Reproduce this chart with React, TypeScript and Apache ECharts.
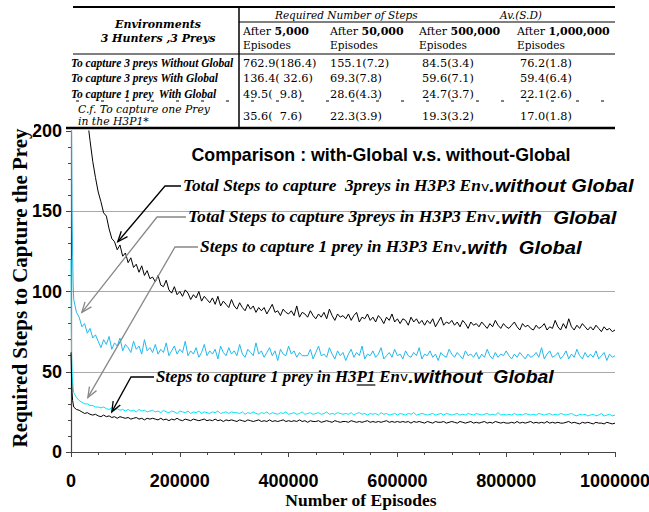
import React, { useEffect, useRef } from "react";
import * as echarts from "echarts";

// ---------- data ----------
const episodesHead = [0, 1000, 2000, 3000, 4000];
const episodeStep = 5000; // body samples: 5000, 10000, ... 1000000

const withoutGlobal3PreysHead = [900, 860, 810, 760, 680];
const withoutGlobal3Preys = [
  600, 420, 330, 272, 234, 208, 194, 181, 171, 162,
  156, 149, 147, 139, 133, 131, 126, 129, 122, 124,
  118, 121, 115, 117, 112, 116, 110, 113, 108, 109,
  106, 110, 104, 103, 107, 101, 99, 103, 98, 100,
  97, 101, 99, 95, 98, 96, 100, 94, 97, 95,
  93, 96, 92, 97, 91, 94, 92, 90, 95, 91,
  89, 93, 90, 88, 92, 89, 91, 87, 90, 88,
  90, 86, 89, 92, 87, 88, 85, 89, 87, 86,
  88, 85, 91, 84, 87, 86, 84, 88, 85, 83,
  86, 84, 87, 83, 89, 85, 82, 86, 84, 85,
  83, 86, 82, 85, 87, 81, 84, 83, 86, 82,
  84, 81, 85, 83, 80, 84, 82, 86, 81, 83,
  80, 83, 82, 79, 84, 81, 83, 80, 82, 79,
  82, 80, 83, 78, 81, 84, 79, 81, 80, 82,
  79, 81, 78, 82, 80, 77, 81, 79, 80, 78,
  81, 79, 77, 80, 78, 82, 79, 77, 80, 78,
  77, 79, 81, 78, 76, 80, 78, 79, 77, 76,
  79, 77, 78, 80, 76, 78, 77, 82, 78, 76,
  80, 77, 83, 78, 76, 79, 77, 80, 78, 76,
  78, 76, 79, 77, 75, 78, 76, 77, 75, 76,
];

const withGlobal3PreysHead = [300, 200, 150, 122, 104];
const withGlobal3Preys = [
  95, 87, 84, 78, 80, 74, 77, 71, 73, 69,
  65, 70, 67, 72, 64, 68, 66, 71, 63, 67,
  65, 62, 69, 64, 66, 61, 70, 63, 65, 62,
  67, 61, 64, 62, 68, 60, 63, 66, 61, 64,
  62, 69, 60, 63, 61, 65, 59, 62, 67, 60,
  63, 61, 64, 58, 66, 62, 60, 65, 61, 63,
  60, 67, 61, 59, 64, 62, 60, 68, 61, 63,
  59, 62, 65, 60, 63, 57, 64, 61, 60, 66,
  61, 63, 59, 62, 60, 60, 60, 64, 58, 62,
  66, 60, 61, 59, 65, 61, 58, 63, 60, 62,
  57, 61, 64, 59, 62, 60, 66, 58, 61, 60,
  63, 59, 61, 65, 58, 60, 62, 59, 64, 60,
  61, 58, 63, 60, 59, 62, 60, 65, 58, 61,
  60, 63, 59, 61, 57, 62, 60, 59, 64, 61,
  59, 62, 60, 58, 63, 60, 61, 59, 62, 58,
  61, 59, 64, 60, 58, 62, 59, 61, 60, 63,
  60, 58, 61, 59, 62, 60, 58, 61, 59, 60,
  62, 59, 65, 58, 61, 63, 59, 60, 62, 58,
  60, 63, 58, 61, 59, 64, 60, 58, 62, 59,
  61, 59, 63, 58, 60, 62, 57, 61, 59, 60,
];

const withGlobal1PreyHead = [120, 62, 50, 44, 40];
const withGlobal1Prey = [
  37, 34, 32, 31, 30, 30, 29, 29, 28, 28,
  27.5, 28, 27, 26.5, 27.5, 26, 27, 26, 26.5, 25.5,
  26.5, 25.5, 26, 25, 26.5, 25.5, 26, 25, 25.5, 26,
  25, 25.5, 24.5, 26, 25, 24.5, 25.5, 25, 24, 25.5,
  25, 24.5, 25.5, 24, 25, 24.5, 25.5, 24, 25, 24.5,
  24, 25, 24.5, 25.5, 24, 24.5, 25, 24, 25, 24.5,
  24.5, 24, 25, 23.5, 24.5, 24, 25, 24, 23.5, 24.5,
  24, 25, 23.5, 24.5, 24, 23.5, 24.5, 24, 25, 23.5,
  24, 24.5, 23.5, 24, 25, 23.5, 24, 24.5, 23.5, 24,
  24.5, 23.5, 24, 25, 23.5, 24, 23.5, 24.5, 24, 23.5,
  24, 23.5, 24.5, 23, 24, 24.5, 23.5, 24, 23, 24,
  23.5, 24, 23, 24.5, 23.5, 24, 23, 23.5, 24, 23,
  24, 23.5, 23, 24, 23.5, 24.5, 23, 23.5, 24, 23.5,
  23, 23.5, 24, 23, 23.5, 24, 23, 24, 23.5, 23,
  23.5, 24, 23, 23.5, 23, 24, 23.5, 23, 24, 23.5,
  23, 23.5, 24, 23, 23.5, 23, 24.5, 23, 23.5, 23,
  23.5, 23, 24, 23, 23.5, 23, 24, 23.5, 23, 23.5,
  23, 24, 23.5, 23, 23.5, 24, 23, 23.5, 23, 24,
  23.5, 23, 23.5, 24, 23, 22.5, 23.5, 23, 23.5, 22.5,
  23, 23.5, 22.5, 23, 24, 22.5, 23, 23.5, 22.5, 23,
];

const h3p1WithoutGlobal1PreyHead = [62, 46, 37, 32, 30];
const h3p1WithoutGlobal1Prey = [
  28, 26.5, 26, 25, 24, 24.5, 23.5, 23, 23.5, 22.5,
  22, 23, 22, 22.5, 21.5, 22, 21, 22, 21.5, 21,
  21.5, 20.5, 21, 21.5, 20.5, 21, 20, 21, 20.5, 21,
  20.5, 20, 21, 20, 20.5, 19.5, 20.5, 20, 21, 20,
  19.5, 20.5, 20, 19.5, 20.5, 20, 19.5, 20, 20.5, 19.5,
  20, 19.5, 20.5, 19.5, 20, 19, 20, 19.5, 20, 19.5,
  19, 20, 19.5, 19, 20, 19.5, 19, 19.5, 20, 19,
  19.5, 19, 20, 19, 19.5, 19, 19.5, 20, 19, 19.5,
  19, 19.5, 19, 20, 19, 19.5, 18.5, 19.5, 19, 19,
  19.5, 18.5, 19, 19.5, 19, 18.5, 19.5, 19, 18.5, 19,
  19, 18.5, 19.5, 19, 18.5, 19, 18.5, 19, 19.5, 18.5,
  19, 18.5, 19, 18.5, 19, 19.5, 18.5, 19, 18.5, 19,
  18.5, 19, 18.5, 19, 18, 19, 18.5, 19, 18.5, 18,
  19, 18.5, 18, 19, 18.5, 18.5, 19, 18, 18.5, 19,
  18.5, 18, 19, 18.5, 18, 18.5, 19, 18, 18.5, 18,
  18.5, 19, 18, 18.5, 18, 19, 18.5, 18, 18.5, 18,
  18, 18.5, 18, 19, 18, 18.5, 18, 18.5, 19, 18,
  18.5, 18, 18.5, 18, 19, 18, 18.5, 18, 18.5, 18,
  18, 18.5, 19, 18, 18.5, 18, 17.5, 18.5, 18, 18.5,
  18, 17.5, 18.5, 18, 18, 17.5, 18.5, 18, 17.5, 18,
];

const xTicks = { min: 0, max: 1000000, interval: 200000 };
const yTicks = { min: 0, max: 200, interval: 50 };
const xAxisTitle = "Number of Episodes";
const yAxisTitle = "Required Steps to Capture the Prey";
const chartTitle = "Comparison : with-Global v.s. without-Global";

// table
const tableTitle = ["Environments", "3 Hunters ,3 Preys"];
const tableColumns = ["5,000", "50,000", "500,000", "1,000,000"];
const tableRows = [
  "To capture 3 preys Without Global",
  "To capture 3 preys With Global",
  "To capture 1 prey  With Global",
];
const tableFootRow = ["C.f. To capture one Prey", "in the H3P1*"];
const tableValues = [
  ["762.9(186.4)", "155.1(7.2)", "84.5(3.4)", "76.2(1.8)"],
  ["136.4( 32.6)", "69.3(7.8)", "59.6(7.1)", "59.4(6.4)"],
  ["49.5(  9.8)", "28.6(4.3)", "24.7(3.7)", "22.1(2.6)"],
  ["35.6(  7.6)", "22.3(3.9)", "19.3(3.2)", "17.0(1.8)"],
];

// annotations: tip given in data coordinates
const annotations = [
  { tip: [86000, 131], color: "#000", main: "Total Steps to capture  3preys in H3P3 En", tail: ".without Global" },
  { tip: [20000, 87], color: "#888", main: "Total Steps to capture 3preys in H3P3 En", tail: ".with  Global" },
  { tip: [31000, 34], color: "#888", main: "Steps to capture 1 prey in H3P3 En", tail: ".with  Global" },
  { tip: [75000, 25], color: "#000", main: "Steps to capture 1 prey in H3P1 En", tail: ".without  Global" },
];
const underlinedPart = { before: "Steps to capture 1 prey in H3", part: "P1" };

// ---------- layout ----------
const annotationLayout = [
  { textX: 183, textY: 186, lineStart: 181, elbowX: 165, stretch: 1.08 },
  { textX: 188, textY: 217, lineStart: 186, elbowX: 157, stretch: 1.1 },
  { textX: 200, textY: 247, lineStart: 198, elbowX: 175, stretch: 1.09 },
  { textX: 156, textY: 377, lineStart: 154, elbowX: 131, stretch: 1.05 },
];
const valueColX = [243, 330, 422, 520];
const rowY = [63, 78, 94];

function buildSeries(head: number[], body: number[]) {
  const pts: number[][] = head.map((v, i) => [episodesHead[i], v]);
  body.forEach((v, i) => pts.push([(i + 1) * episodeStep, v]));
  return pts;
}

const serif = "'Liberation Serif', 'Times New Roman', serif";
const sans = "'Liberation Sans', Arial, sans-serif";
const tableFont = "'DejaVu Serif', serif";
const annSerifSize = 16;
const annSansSize = 18.5;

function txt(x: number, y: number, text: string, extra: any = {}, align = "left") {
  return {
    type: "text",
    x,
    y,
    z: 120,
    style: {
      text,
      fill: "#000",
      align,
      textAlign: align,
      verticalAlign: "middle",
      textVerticalAlign: "middle",
      fontFamily: tableFont,
      fontSize: 11,
      ...extra,
    },
  };
}

function hline(x1: number, x2: number, y: number, w = 1, extra: any = {}) {
  return {
    type: "line",
    z: 120,
    shape: { x1, y1: y, x2, y2: y },
    style: { stroke: "#000", lineWidth: w, ...extra },
  };
}

function measure(text: string, font: string) {
  const c = document.createElement("canvas").getContext("2d");
  if (!c) return text.length * 7;
  c.font = font;
  return c.measureText(text).width;
}

export default function App() {
  const ref = useRef<HTMLDivElement>(null);
  useEffect(() => {
    const chart = echarts.init(ref.current!, null, { renderer: "svg" });
    const lineSeries = (data: number[][], color: string) => ({
      type: "line",
      data,
      showSymbol: false,
      symbol: "none",
      clip: true,
      lineStyle: { color, width: 1 },
      itemStyle: { color },
    });
    chart.setOption({
      animation: false,
      backgroundColor: "#fff",
      grid: {
        left: 71,
        top: 131,
        width: 544,
        height: 321,
        containLabel: false,
        outerBoundsMode: "none",
      },
      xAxis: {
        type: "value",
        ...xTicks,
        axisLine: { show: true, lineStyle: { color: "#444", width: 1.2 } },
        axisTick: { show: true, length: 5, lineStyle: { color: "#444" } },
        minorTick: { show: true, splitNumber: 4, length: 3, lineStyle: { color: "#444" } },
        splitLine: { show: false },
        axisLabel: {
          margin: 20,
          fontFamily: sans,
          fontWeight: "bold",
          fontSize: 18,
          color: "#000",
          formatter: (v: number) => String(v),
        },
      },
      yAxis: {
        type: "value",
        ...yTicks,
        axisLine: { show: true, lineStyle: { color: "#444", width: 1.2 } },
        axisTick: { show: true, length: 5, lineStyle: { color: "#444" } },
        minorTick: { show: true, splitNumber: 5, length: 3, lineStyle: { color: "#444" } },
        splitLine: {
          show: true,
          lineStyle: { color: ["#aaa", "#aaa", "#aaa", "#aaa", "rgba(0,0,0,0)"], width: 1 },
        },
        axisLabel: { margin: 9, fontFamily: sans, fontWeight: "bold", fontSize: 18, color: "#000" },
      },
      series: [
        lineSeries(buildSeries(withoutGlobal3PreysHead, withoutGlobal3Preys), "#000"),
        lineSeries(buildSeries(withGlobal3PreysHead, withGlobal3Preys), "#22b8ec"),
        lineSeries(buildSeries(withGlobal1PreyHead, withGlobal1Prey), "#00e4f4"),
        lineSeries(buildSeries(h3p1WithoutGlobal1PreyHead, h3p1WithoutGlobal1Prey), "#000"),
      ],
    });

    const graphic: any[] = [];
    // axis titles
    graphic.push({
      type: "text",
      x: 20,
      y: 288,
      rotation: Math.PI / 2,
      z: 105,
      style: {
        text: yAxisTitle,
        fill: "#000",
        align: "center",
        textAlign: "center",
        verticalAlign: "middle",
        textVerticalAlign: "middle",
        fontFamily: serif,
        fontWeight: "bold",
        fontSize: 21,
      },
    });
    graphic.push(txt(361, 500, xAxisTitle, { fontFamily: serif, fontWeight: "bold", fontSize: 17.5 }, "center"));
    // white cover for the top band (crops the y-axis title like the reference)
    graphic.push({ type: "rect", z: 110, shape: { x: 0, y: 0, width: 34, height: 128 }, style: { fill: "#fff" } });

    // ---------- table ----------
    graphic.push(hline(73, 615, 7, 2));
    graphic.push(hline(239, 615, 22, 1));
    graphic.push(hline(73, 615, 54, 1));
    graphic.push(hline(76, 606, 101, 1, { lineDash: [3, 22] }));
    graphic.push(hline(66, 615, 128, 2.5));
    graphic.push({ type: "line", z: 120, shape: { x1: 239, y1: 7, x2: 239, y2: 128 }, style: { stroke: "#000", lineWidth: 1.5 } });

    graphic.push(txt(158, 24, tableTitle[0], { fontWeight: "bold", fontStyle: "italic" }, "center"));
    graphic.push(txt(158, 38, tableTitle[1], { fontWeight: "bold", fontStyle: "italic" }, "center"));
    graphic.push(txt(275, 15, "Required Number of Steps", { fontStyle: "italic", fontSize: 10.5 }));
    graphic.push(txt(500, 15, "Av.(S.D)", { fontStyle: "italic", fontSize: 10.5 }));
    const headColX = [243, 330, 419, 517];
    tableColumns.forEach((c, i) => {
      graphic.push({
        type: "text",
        x: headColX[i],
        y: 31,
        z: 120,
        style: {
          text: `{n|After }{b|${c}}`,
          align: "left",
          textAlign: "left",
          verticalAlign: "middle",
          textVerticalAlign: "middle",
          rich: {
            n: { fontFamily: tableFont, fontSize: 11, fill: "#000", color: "#000" },
            b: { fontFamily: tableFont, fontSize: 11, fontWeight: "bold", fill: "#000", color: "#000" },
          },
        },
      });
      graphic.push(txt(headColX[i], 45, "Episodes", { fontSize: 10.5 }));
    });
    tableRows.forEach((r, i) => {
      graphic.push(txt(71, rowY[i], r, { fontFamily: serif, fontWeight: "bold", fontStyle: "italic", fontSize: 11.5 }));
    });
    graphic.push(txt(78, 109.5, tableFootRow[0], { fontStyle: "italic", fontSize: 10.8 }));
    graphic.push(txt(78, 121.5, tableFootRow[1], { fontStyle: "italic", fontSize: 10.8 }));
    tableValues.forEach((row, ri) => {
      const y = ri < 3 ? rowY[ri] : 116;
      row.forEach((v, ci) => graphic.push(txt(valueColX[ci], y, v, { fontSize: 11.3 })));
    });

    // ---------- title ----------
    graphic.push(txt(381, 155, chartTitle, { fontFamily: sans, fontWeight: "bold", fontSize: 17.8 }, "center"));

    // ---------- annotations ----------
    annotations.forEach((a, i) => {
      const L = annotationLayout[i];
      const tip = chart.convertToPixel({ gridIndex: 0 }, a.tip) as number[];
      const y = L.textY;
      graphic.push({
        type: "polyline",
        z: 115,
        shape: { points: [[L.lineStart, y], [L.elbowX, y], tip] },
        style: { stroke: a.color, lineWidth: 1.3, fill: "none" },
      });
      const dx = tip[0] - L.elbowX;
      const dy = tip[1] - y;
      const len = Math.sqrt(dx * dx + dy * dy);
      const ux = dx / len, uy = dy / len;
      const head = 11, ang = 0.38;
      const rot = (s: number) => [
        tip[0] - head * (ux * Math.cos(s * ang) - uy * Math.sin(s * ang)),
        tip[1] - head * (ux * Math.sin(s * ang) + uy * Math.cos(s * ang)),
      ];
      graphic.push({
        type: "polyline",
        z: 115,
        shape: { points: [rot(1), tip, rot(-1)] },
        style: { stroke: a.color, lineWidth: 1.3, fill: "none" },
      });
      graphic.push({
        type: "text",
        x: L.textX,
        y,
        scaleX: L.stretch,
        z: 116,
        style: {
          text: `{s|${a.main}}{v|v}{g|${a.tail}}`,
          align: "left",
          textAlign: "left",
          verticalAlign: "middle",
          textVerticalAlign: "middle",
          rich: {
            s: { fontFamily: serif, fontWeight: "bold", fontStyle: "italic", fontSize: annSerifSize, fill: "#000", color: "#000" },
            v: { fontFamily: "'DejaVu Sans', sans-serif", fontSize: 13, fill: "#000", color: "#000" },
            g: { fontFamily: sans, fontWeight: "bold", fontStyle: "italic", fontSize: annSansSize, fill: "#000", color: "#000" },
          },
        },
      });
    });
    // underline under "P1" of the H3P1 annotation
    const annFont = `italic bold ${annSerifSize}px 'Liberation Serif'`;
    const L4 = annotationLayout[3];
    const ux0 = L4.textX + measure(underlinedPart.before, annFont) * L4.stretch;
    const uw = measure(underlinedPart.part, annFont) * L4.stretch;
    graphic.push(hline(ux0, ux0 + uw, L4.textY + 8, 1.2, { stroke: "#000" }));

    chart.setOption({ graphic });
    return () => chart.dispose();
  }, []);
  return (
    <div
      ref={ref}
      style={{ position: "fixed", left: 0, top: 0, width: 649, height: 512, background: "#fff" }}
    />
  );
}
